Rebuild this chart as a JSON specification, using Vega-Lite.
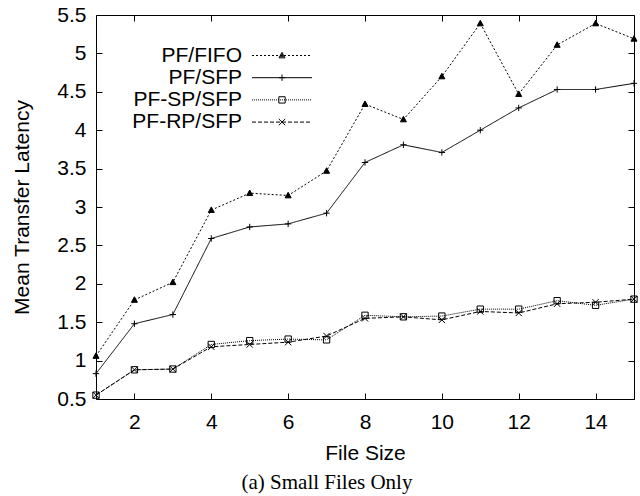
{
  "$schema": "https://vega.github.io/schema/vega-lite/v6.json",
  "width": 538,
  "height": 384,
  "autosize": {"type": "none"},
  "padding": {"left": 96, "top": 15, "right": 6, "bottom": 97},
  "background": "white",
  "config": {
    "view": {"stroke": "black", "strokeWidth": 1},
    "axis": {
      "grid": false,
      "domain": false,
      "tickColor": "black",
      "tickSize": -6,
      "tickWidth": 1,
      "labelFont": "Liberation Sans",
      "labelColor": "black",
      "titleFont": "Liberation Sans",
      "titleColor": "black",
      "titleFontWeight": "normal"
    }
  },
  "title": {
    "text": "(a) Small Files Only",
    "orient": "bottom",
    "frame": "group",
    "font": "Liberation Serif",
    "fontSize": 21,
    "fontWeight": "normal",
    "color": "black",
    "offset": 9,
    "dx": -38,
    "anchor": "middle"
  },
  "data": {
    "values": [
      {"size": 1, "series": "PF/FIFO", "latency": 1.06},
      {"size": 2, "series": "PF/FIFO", "latency": 1.79},
      {"size": 3, "series": "PF/FIFO", "latency": 2.02},
      {"size": 4, "series": "PF/FIFO", "latency": 2.96},
      {"size": 5, "series": "PF/FIFO", "latency": 3.18},
      {"size": 6, "series": "PF/FIFO", "latency": 3.15},
      {"size": 7, "series": "PF/FIFO", "latency": 3.47},
      {"size": 8, "series": "PF/FIFO", "latency": 4.34},
      {"size": 9, "series": "PF/FIFO", "latency": 4.14},
      {"size": 10, "series": "PF/FIFO", "latency": 4.70},
      {"size": 11, "series": "PF/FIFO", "latency": 5.39},
      {"size": 12, "series": "PF/FIFO", "latency": 4.47},
      {"size": 13, "series": "PF/FIFO", "latency": 5.11},
      {"size": 14, "series": "PF/FIFO", "latency": 5.39},
      {"size": 15, "series": "PF/FIFO", "latency": 5.19},
      {"size": 1, "series": "PF/SFP", "latency": 0.83},
      {"size": 2, "series": "PF/SFP", "latency": 1.48},
      {"size": 3, "series": "PF/SFP", "latency": 1.60},
      {"size": 4, "series": "PF/SFP", "latency": 2.59},
      {"size": 5, "series": "PF/SFP", "latency": 2.74},
      {"size": 6, "series": "PF/SFP", "latency": 2.78},
      {"size": 7, "series": "PF/SFP", "latency": 2.92},
      {"size": 8, "series": "PF/SFP", "latency": 3.58},
      {"size": 9, "series": "PF/SFP", "latency": 3.81},
      {"size": 10, "series": "PF/SFP", "latency": 3.71},
      {"size": 11, "series": "PF/SFP", "latency": 4.00},
      {"size": 12, "series": "PF/SFP", "latency": 4.29},
      {"size": 13, "series": "PF/SFP", "latency": 4.53},
      {"size": 14, "series": "PF/SFP", "latency": 4.53},
      {"size": 15, "series": "PF/SFP", "latency": 4.61},
      {"size": 1, "series": "PF-SP/SFP", "latency": 0.55},
      {"size": 2, "series": "PF-SP/SFP", "latency": 0.88},
      {"size": 3, "series": "PF-SP/SFP", "latency": 0.89},
      {"size": 4, "series": "PF-SP/SFP", "latency": 1.21},
      {"size": 5, "series": "PF-SP/SFP", "latency": 1.26},
      {"size": 6, "series": "PF-SP/SFP", "latency": 1.28},
      {"size": 7, "series": "PF-SP/SFP", "latency": 1.27},
      {"size": 8, "series": "PF-SP/SFP", "latency": 1.59},
      {"size": 9, "series": "PF-SP/SFP", "latency": 1.57},
      {"size": 10, "series": "PF-SP/SFP", "latency": 1.58},
      {"size": 11, "series": "PF-SP/SFP", "latency": 1.67},
      {"size": 12, "series": "PF-SP/SFP", "latency": 1.67},
      {"size": 13, "series": "PF-SP/SFP", "latency": 1.78},
      {"size": 14, "series": "PF-SP/SFP", "latency": 1.72},
      {"size": 15, "series": "PF-SP/SFP", "latency": 1.80},
      {"size": 1, "series": "PF-RP/SFP", "latency": 0.55},
      {"size": 2, "series": "PF-RP/SFP", "latency": 0.88},
      {"size": 3, "series": "PF-RP/SFP", "latency": 0.89},
      {"size": 4, "series": "PF-RP/SFP", "latency": 1.18},
      {"size": 5, "series": "PF-RP/SFP", "latency": 1.21},
      {"size": 6, "series": "PF-RP/SFP", "latency": 1.24},
      {"size": 7, "series": "PF-RP/SFP", "latency": 1.32},
      {"size": 8, "series": "PF-RP/SFP", "latency": 1.55},
      {"size": 9, "series": "PF-RP/SFP", "latency": 1.57},
      {"size": 10, "series": "PF-RP/SFP", "latency": 1.53},
      {"size": 11, "series": "PF-RP/SFP", "latency": 1.64},
      {"size": 12, "series": "PF-RP/SFP", "latency": 1.62},
      {"size": 13, "series": "PF-RP/SFP", "latency": 1.74},
      {"size": 14, "series": "PF-RP/SFP", "latency": 1.76},
      {"size": 15, "series": "PF-RP/SFP", "latency": 1.80}
    ]
  },
  "layer": [
    {
      "mark": {"type": "line", "strokeWidth": 1, "color": "black"},
      "encoding": {
        "x": {
          "field": "size", "type": "quantitative",
          "scale": {"domain": [1, 15], "nice": false, "zero": false},
          "axis": {"orient": "bottom", "title": "File Size", "values": [2, 4, 6, 8, 10, 12, 14], "format": "d", "labelFontSize": 21, "labelPadding": 18, "titleFontSize": 21, "titlePadding": 10}
        },
        "y": {
          "field": "latency", "type": "quantitative",
          "scale": {"domain": [0.5, 5.5], "nice": false, "zero": false},
          "axis": {"orient": "left", "title": "Mean Transfer Latency", "values": [0.5, 1, 1.5, 2, 2.5, 3, 3.5, 4, 4.5, 5, 5.5], "format": "~g", "labelFontSize": 21, "labelPadding": 16, "titleFontSize": 21, "titlePadding": 24}
        },
        "strokeDash": {
          "field": "series", "type": "nominal",
          "scale": {"domain": ["PF/FIFO", "PF/SFP", "PF-SP/SFP", "PF-RP/SFP"], "range": [[2, 2], [1, 0], [1, 1], [4, 2]]},
          "legend": {
            "orient": "none", "legendX": 175.5, "legendY": 30, "title": null, "padding": 0,
            "labelAlign": "right", "labelOffset": -50.5, "labelFontSize": 21, "labelFont": "Liberation Sans", "labelColor": "black",
            "symbolSize": 144, "symbolStrokeWidth": 1, "symbolStrokeColor": "black", "symbolType": "M-5,0L5,0",
            "rowPadding": 0.2
          }
        }
      }
    },
    {
      "mark": {"type": "point", "size": 40, "strokeWidth": 1, "color": "black", "filled": false, "opacity": 1},
      "encoding": {
        "x": {
          "field": "size", "type": "quantitative",
          "scale": {"domain": [1, 15], "nice": false, "zero": false},
          "axis": {"orient": "top", "labels": false, "title": null, "values": [2, 4, 6, 8, 10, 12, 14]}
        },
        "y": {
          "field": "latency", "type": "quantitative",
          "scale": {"domain": [0.5, 5.5], "nice": false, "zero": false},
          "axis": {"orient": "right", "labels": false, "title": null, "values": [0.5, 1, 1.5, 2, 2.5, 3, 3.5, 4, 4.5, 5, 5.5]}
        },
        "shape": {
          "field": "series", "type": "nominal",
          "sort": ["PF/FIFO", "PF/SFP", "PF-SP/SFP", "PF-RP/SFP"],
          "scale": {"range": ["M0,-1L0.95,0.75L-0.95,0.75Z M0,-0.45L0.45,0.4L-0.45,0.4Z M0,-0.1L0.12,0.15L-0.12,0.15Z", "M-1,0L1,0M0,-1L0,1", "square", "M-1,-1L1,1M-1,1L1,-1"]},
          "legend": {
            "orient": "none", "legendX": 175.5, "legendY": 30, "title": null, "padding": 0,
            "labelFontSize": 21, "labelColor": "transparent",
            "symbolSize": 40, "symbolStrokeWidth": 1, "symbolStrokeColor": "black",
            "rowPadding": 0.2
          }
        },
        "fill": {"condition": {"test": "datum.series === 'PF/FIFO'", "value": "black"}, "value": "transparent"}
      }
    }
  ],
  "resolve": {"axis": {"x": "independent", "y": "independent"}}
}
